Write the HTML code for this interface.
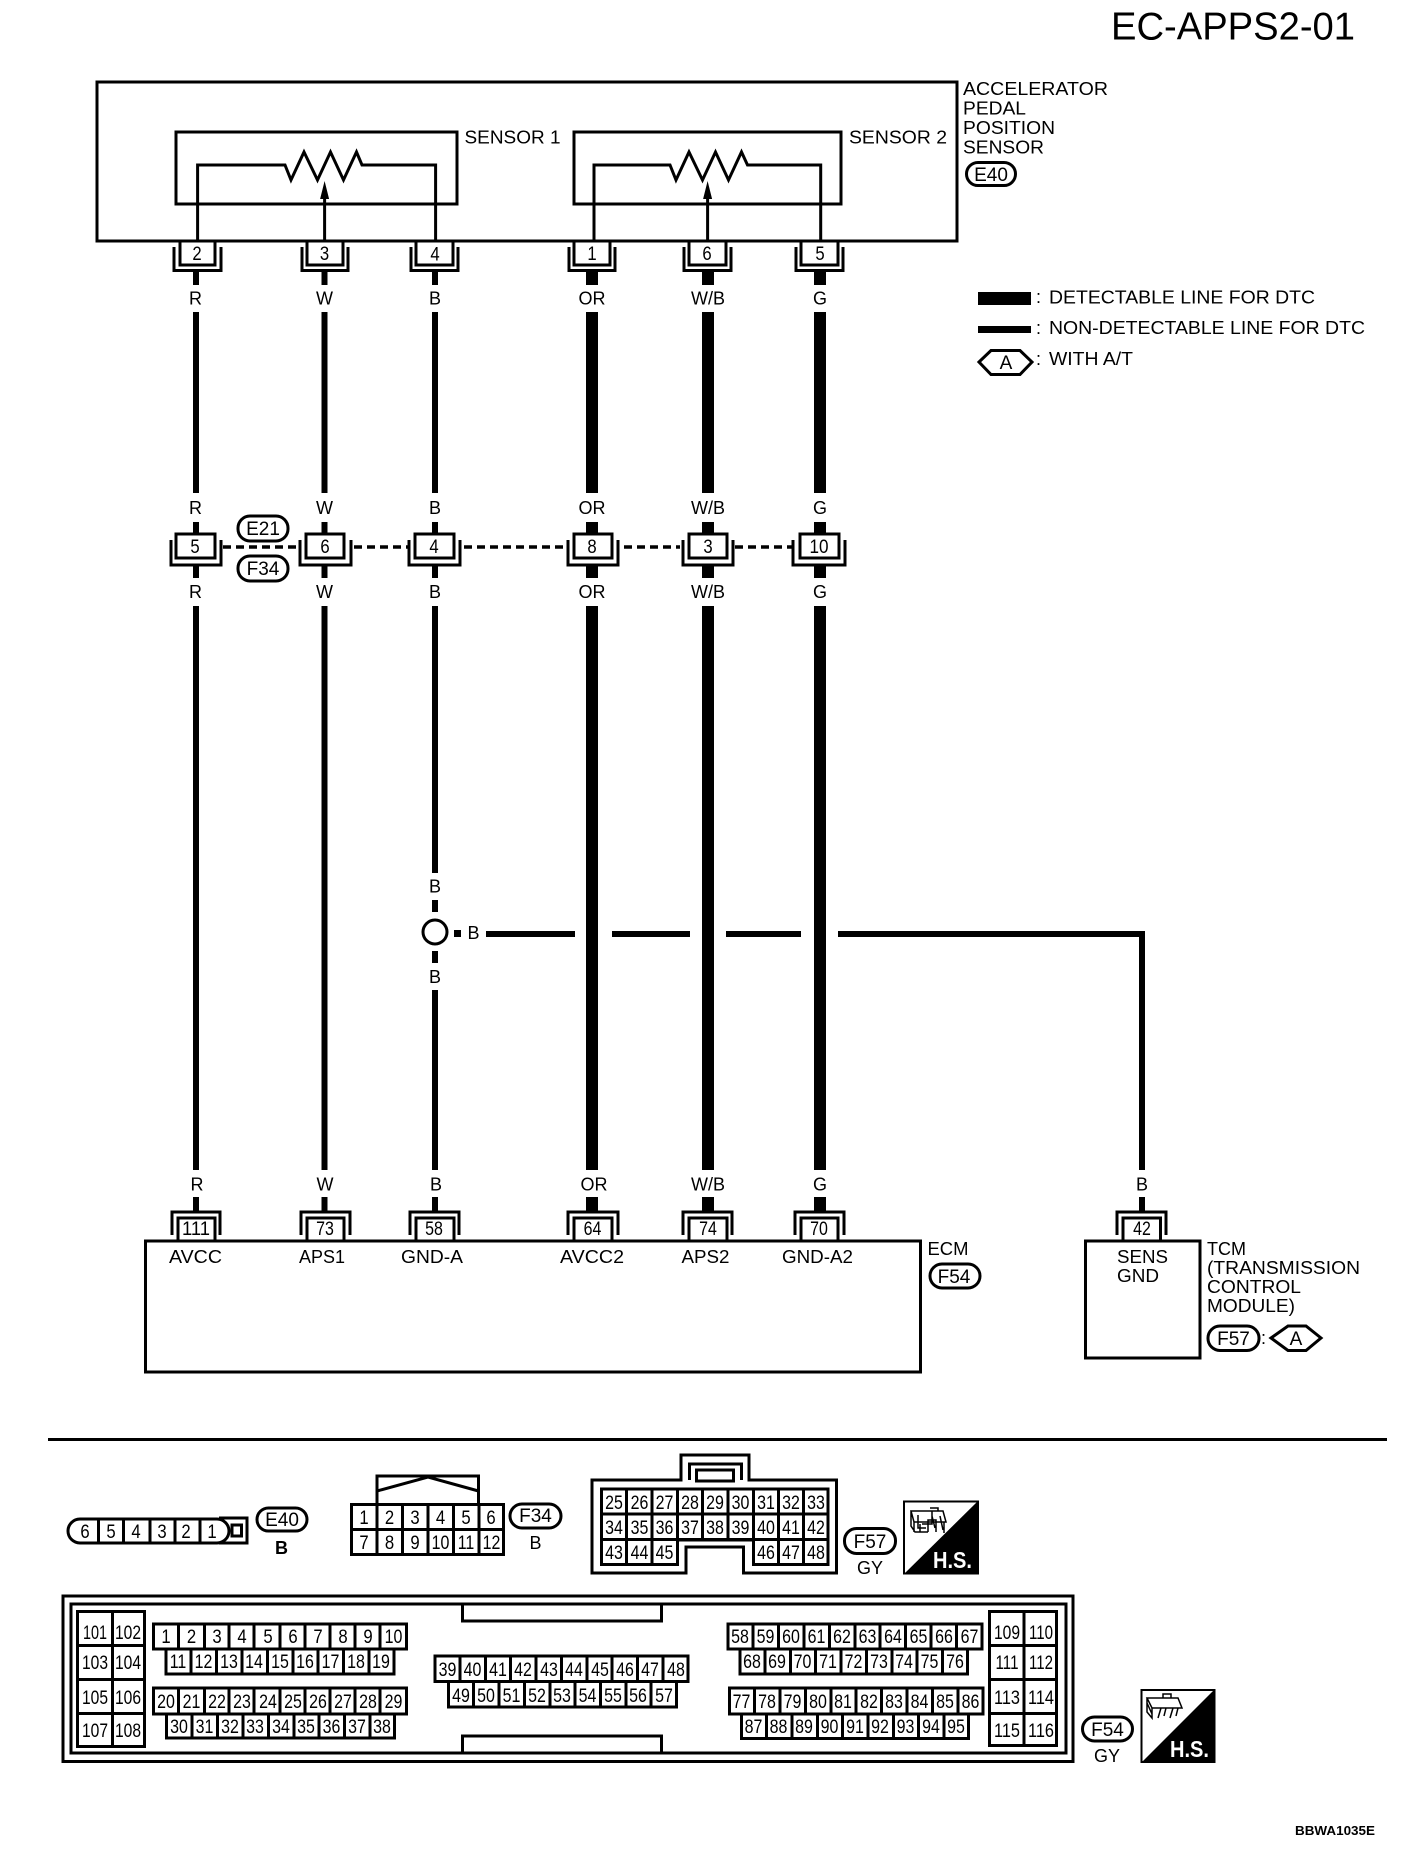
<!DOCTYPE html>
<html><head><meta charset="utf-8"><title>EC-APPS2-01</title>
<style>
html,body{margin:0;padding:0;background:#fff}
svg{display:block}
text{font-family:"Liberation Sans",sans-serif;fill:#000}
.l{font-size:18px;text-anchor:middle}
.n{font-size:19px;text-anchor:middle;transform-box:fill-box;transform-origin:center;transform:scaleX(.88)}
.n[textLength]{transform:none}
.c{font-size:19px;text-anchor:middle;transform-box:fill-box;transform-origin:center;transform:scaleX(.84)}
.o{font-size:19px;text-anchor:middle}
.t{font-size:18px}
.f{fill:none;stroke:#000;stroke-width:3}
.w{fill:#fff;stroke:#000;stroke-width:3}
</style></head><body>
<svg xmlns="http://www.w3.org/2000/svg" width="1408" height="1862" viewBox="0 0 1408 1862">
<rect width="1408" height="1862" fill="#fff"/>
<text x="1111" y="39.500" font-size="39" textLength="244" lengthAdjust="spacingAndGlyphs">EC-APPS2-01</text>

<!-- sensor box -->
<rect class="f" x="97" y="82" width="860" height="159"/>
<rect class="f" x="176" y="132" width="281" height="72"/>
<rect class="f" x="574" y="132" width="267" height="72"/>
<path class="f" d="M197.600 241V165H285L291 180 304 152 317.500 180 330.500 152 343.500 180 356.500 152 362 165H435.600V241"/>
<path class="f" d="M324.600 241V195"/>
<path d="M324.600 181l-4.500 18h9z"/>
<path class="f" d="M594 241V165H670L676 180 689 152 702.500 180 715.500 152 728.500 180 741.500 152 747.500 165H820.700V241"/>
<path class="f" d="M707.600 241V195"/>
<path d="M707.600 181l-4.500 18h9z"/>
<text class="t" x="464.500" y="143.500" textLength="96" lengthAdjust="spacingAndGlyphs">SENSOR 1</text>
<text class="t" x="849" y="143.500" textLength="98" lengthAdjust="spacingAndGlyphs">SENSOR 2</text>
<text class="t" x="963" y="95" textLength="145" lengthAdjust="spacingAndGlyphs">ACCELERATOR</text>
<text class="t" x="963" y="114.500" textLength="63" lengthAdjust="spacingAndGlyphs">PEDAL</text>
<text class="t" x="963" y="134" textLength="92" lengthAdjust="spacingAndGlyphs">POSITION</text>
<text class="t" x="963" y="153.500" textLength="81" lengthAdjust="spacingAndGlyphs">SENSOR</text>
<rect class="f" x="966.500" y="162.500" width="49" height="23" rx="11.500"/>
<text class="o" x="991" y="181">E40</text>

<!-- top connectors -->
<path class="f" d="M180 241V265H215V241M174 247V270.500H221V247"/>
<path class="f" d="M307 241V265H343V241M302 247V270.500H348V247"/>
<path class="f" d="M416 241V265H453V241M411 247V270.500H458V247"/>
<path class="f" d="M574 241V265H610V241M569 247V270.500H615V247"/>
<path class="f" d="M689 241V265H726V241M684 247V270.500H731V247"/>
<path class="f" d="M801 241V265H838V241M796 247V270.500H843V247"/>
<g>
<text class="n" x="197" y="260">2</text><text class="n" x="324.500" y="260">3</text><text class="n" x="435" y="260.500">4</text>
<text class="n" x="592" y="260">1</text><text class="n" x="707" y="260">6</text><text class="n" x="820" y="260">5</text>
</g>

<!-- wires -->
<g fill="#000">
<rect x="193" y="272" width="6" height="13"/><rect x="193" y="312" width="6" height="181"/><rect x="193" y="522" width="6" height="12"/><rect x="193" y="566" width="6" height="12"/><rect x="193" y="606" width="6" height="564"/><rect x="193" y="1197" width="6" height="15"/>
<rect x="321.500" y="272" width="6" height="13"/><rect x="321.500" y="312" width="6" height="181"/><rect x="321.500" y="522" width="6" height="12"/><rect x="321.500" y="566" width="6" height="12"/><rect x="321.500" y="606" width="6" height="564"/><rect x="321.500" y="1197" width="6" height="15"/>
<rect x="432" y="272" width="6" height="13"/><rect x="432" y="312" width="6" height="181"/><rect x="432" y="522" width="6" height="12"/><rect x="432" y="566" width="6" height="12"/><rect x="432" y="606" width="6" height="267"/><rect x="432" y="900" width="6" height="12"/><rect x="432" y="951" width="6" height="12"/><rect x="432" y="990" width="6" height="180"/><rect x="432" y="1197" width="6" height="15"/>
<rect x="586" y="272" width="12" height="13"/><rect x="586" y="312" width="12" height="181"/><rect x="586" y="522" width="12" height="12"/><rect x="586" y="566" width="12" height="12"/><rect x="586" y="606" width="12" height="564"/><rect x="586" y="1197" width="12" height="15"/>
<rect x="702" y="272" width="12" height="13"/><rect x="702" y="312" width="12" height="181"/><rect x="702" y="522" width="12" height="12"/><rect x="702" y="566" width="12" height="12"/><rect x="702" y="606" width="12" height="564"/><rect x="702" y="1197" width="12" height="15"/>
<rect x="814" y="272" width="12" height="13"/><rect x="814" y="312" width="12" height="181"/><rect x="814" y="522" width="12" height="12"/><rect x="814" y="566" width="12" height="12"/><rect x="814" y="606" width="12" height="564"/><rect x="814" y="1197" width="12" height="15"/>
<rect x="1139" y="931" width="6" height="239"/><rect x="1139" y="1197" width="6" height="15"/>
<rect x="486" y="931" width="89" height="6"/><rect x="612" y="931" width="78" height="6"/><rect x="726" y="931" width="75" height="6"/><rect x="838" y="931" width="307" height="6"/>
<rect x="454" y="930" width="7" height="7"/>
</g>

<!-- wire labels -->
<g>
<text class="l" x="195.500" y="304.500">R</text><text class="l" x="324.500" y="304.500">W</text><text class="l" x="435" y="304.500">B</text><text class="l" x="592" y="304.500">OR</text><text class="l" x="708" y="304.500">W/B</text><text class="l" x="820" y="304.500">G</text>
<text class="l" x="195.500" y="514">R</text><text class="l" x="324.500" y="514">W</text><text class="l" x="435" y="514">B</text><text class="l" x="592" y="514">OR</text><text class="l" x="708" y="514">W/B</text><text class="l" x="820" y="514">G</text>
<text class="l" x="195.500" y="598">R</text><text class="l" x="324.500" y="598">W</text><text class="l" x="435" y="598">B</text><text class="l" x="592" y="598">OR</text><text class="l" x="708" y="598">W/B</text><text class="l" x="820" y="598">G</text>
<text class="l" x="197" y="1190.500">R</text><text class="l" x="325" y="1190.500">W</text><text class="l" x="436" y="1190.500">B</text><text class="l" x="594" y="1190.500">OR</text><text class="l" x="708" y="1190.500">W/B</text><text class="l" x="820" y="1190.500">G</text>
<text class="l" x="1142" y="1190.500">B</text>
<text class="l" x="435" y="892.500">B</text><text class="l" x="435" y="983">B</text><text class="l" x="473.500" y="939">B</text>
</g>
<circle class="f" cx="435" cy="932" r="12"/>

<!-- middle connectors -->
<path class="f" d="M176 534H215V558H176ZM171 540V565H221V540"/>
<path class="f" d="M306 534H344V558H306ZM300 540V565H351V540"/>
<path class="f" d="M415 534H454V558H415ZM409 540V565H460V540"/>
<path class="f" d="M574 534H612V558H574ZM568 540V565H618V540"/>
<path class="f" d="M689 534H727V558H689ZM683 540V565H733V540"/>
<path class="f" d="M800 534H839V558H800ZM793 540V565H845V540"/>
<g>
<text class="n" x="195" y="553">5</text><text class="n" x="325" y="553">6</text><text class="n" x="434" y="553">4</text><text class="n" x="592" y="553">8</text><text class="n" x="708" y="553">3</text><text class="n" x="819" y="553" textLength="19" lengthAdjust="spacingAndGlyphs">10</text>
</g>
<path d="M223 547H298M354 547H408M464 547H567M624 547H680M735 547H792" fill="none" stroke="#000" stroke-width="3.500" stroke-dasharray="8 5"/>
<rect class="f" x="238" y="516" width="50" height="25" rx="12"/>
<text class="o" x="263" y="535">E21</text>
<rect class="f" x="238" y="556" width="50" height="25" rx="12"/>
<text class="o" x="263" y="575">F34</text>

<!-- legend -->
<rect x="978" y="292" width="53" height="13"/>
<rect x="978" y="326" width="53" height="7"/>
<text class="t" x="1036" y="303">:</text><text class="t" x="1049" y="303.500" textLength="266" lengthAdjust="spacingAndGlyphs">DETECTABLE LINE FOR DTC</text>
<text class="t" x="1036" y="334">:</text><text class="t" x="1049" y="334" textLength="316" lengthAdjust="spacingAndGlyphs">NON-DETECTABLE LINE FOR DTC</text>
<text class="t" x="1036" y="365">:</text><text class="t" x="1049" y="365" textLength="84" lengthAdjust="spacingAndGlyphs">WITH A/T</text>
<path class="f" d="M979 362L991 350.500H1020L1032 362 1020 374.500H991Z"/>
<text class="o" x="1006" y="369">A</text>

<!-- ECM -->
<rect class="f" x="145.500" y="1241" width="775" height="131"/>
<path class="f" d="M178 1241V1218H215V1241M172 1235V1212H220V1235"/>
<path class="f" d="M307 1241V1218H344V1241M301 1235V1212H350V1235"/>
<path class="f" d="M416 1241V1218H454V1241M410 1235V1212H459V1235"/>
<path class="f" d="M574 1241V1218H612V1241M568 1235V1212H618V1235"/>
<path class="f" d="M689 1241V1218H727V1241M683 1235V1212H732V1235"/>
<path class="f" d="M801 1241V1218H838V1241M795 1235V1212H844V1235"/>
<g>
<text class="n" x="196" y="1235" textLength="28" lengthAdjust="spacingAndGlyphs">111</text><text class="c" x="325" y="1235">73</text><text class="c" x="434" y="1235">58</text><text class="c" x="592.500" y="1235">64</text><text class="c" x="708" y="1235">74</text><text class="c" x="819" y="1235">70</text>
</g>
<text class="t" x="169" y="1263" textLength="53" lengthAdjust="spacingAndGlyphs">AVCC</text>
<text class="t" x="299" y="1263" textLength="46" lengthAdjust="spacingAndGlyphs">APS1</text>
<text class="t" x="401" y="1263" textLength="62" lengthAdjust="spacingAndGlyphs">GND-A</text>
<text class="t" x="560" y="1263" textLength="64" lengthAdjust="spacingAndGlyphs">AVCC2</text>
<text class="t" x="681.500" y="1263" textLength="48" lengthAdjust="spacingAndGlyphs">APS2</text>
<text class="t" x="782" y="1263" textLength="71" lengthAdjust="spacingAndGlyphs">GND-A2</text>
<text class="t" x="927.500" y="1255" textLength="41" lengthAdjust="spacingAndGlyphs">ECM</text>
<rect class="f" x="930" y="1264" width="50" height="24" rx="12"/>
<text class="o" x="954" y="1283">F54</text>

<!-- TCM -->
<rect class="f" x="1085.500" y="1241" width="114.500" height="117"/>
<path class="f" d="M1123 1241V1218H1160.500V1241M1117 1235V1212H1166V1235"/>
<text class="c" x="1142" y="1235">42</text>
<text class="t" x="1117" y="1263" textLength="51" lengthAdjust="spacingAndGlyphs">SENS</text>
<text class="t" x="1117" y="1282" textLength="42" lengthAdjust="spacingAndGlyphs">GND</text>
<text class="t" x="1207" y="1255" textLength="39" lengthAdjust="spacingAndGlyphs">TCM</text>
<text class="t" x="1207" y="1274" textLength="153" lengthAdjust="spacingAndGlyphs">(TRANSMISSION</text>
<text class="t" x="1207" y="1293" textLength="94" lengthAdjust="spacingAndGlyphs">CONTROL</text>
<text class="t" x="1207" y="1312" textLength="88" lengthAdjust="spacingAndGlyphs">MODULE)</text>
<rect class="f" x="1208" y="1326" width="51" height="24.500" rx="12"/>
<text class="o" x="1233.500" y="1345">F57</text>
<text class="t" x="1261" y="1344">:</text>
<path class="f" d="M1271 1338L1288 1326H1306L1321 1338 1306 1350.500H1288Z"/>
<text class="o" x="1296" y="1345">A</text>

<rect x="48" y="1438" width="1339" height="3"/>

<!-- E40 connector -->
<path class="f" d="M219 1518H247V1543H219"/>
<rect class="f" x="232" y="1525" width="9.500" height="11"/>
<rect class="w" x="68" y="1519" width="161" height="24" rx="12"/>
<path class="f" d="M98.500 1519V1543M123.500 1519V1543M150 1519V1543M175 1519V1543M200 1519V1543"/>
<g>
<text class="n" x="85" y="1538">6</text><text class="n" x="111" y="1538">5</text><text class="n" x="136" y="1538">4</text><text class="n" x="162" y="1538">3</text><text class="n" x="186" y="1538">2</text><text class="n" x="212" y="1538">1</text>
</g>
<rect class="f" x="257" y="1508" width="50" height="23" rx="11.500"/>
<text class="o" x="282" y="1526">E40</text>
<text class="l" x="281.500" y="1554" font-weight="bold">B</text>

<!-- F34 connector -->
<path class="f" d="M377 1504V1476H478.500V1504"/>
<path class="f" d="M377 1491L428 1477 478.500 1491"/>
<rect class="w" x="351.500" y="1504.500" width="152" height="50"/>
<path class="f" d="M351.500 1529.500H503.500M377 1504.500V1554.500M402.500 1504.500V1554.500M428 1504.500V1554.500M453.500 1504.500V1554.500M479 1504.500V1554.500"/>
<g>
<text class="n" x="364" y="1524">1</text><text class="n" x="389.500" y="1524">2</text><text class="n" x="415" y="1524">3</text><text class="n" x="440.500" y="1524">4</text><text class="n" x="466" y="1524">5</text><text class="n" x="491" y="1524">6</text>
<text class="n" x="364" y="1549">7</text><text class="n" x="389.500" y="1549">8</text><text class="n" x="415" y="1549">9</text>
<text class="c" x="440.500" y="1549">10</text><text class="c" x="466" y="1549">11</text><text class="c" x="491.500" y="1549">12</text>
</g>
<rect class="f" x="510" y="1504" width="51" height="24" rx="12"/>
<text class="o" x="535.500" y="1522">F34</text>
<text class="l" x="535.500" y="1549">B</text>

<!-- F57 connector -->
<path class="f" d="M592 1480H681V1455H749V1480H836.500V1573H743.500V1547H686V1573H592Z"/>
<path class="f" d="M689.500 1480V1464H741.500V1480"/>
<rect class="f" x="696.500" y="1470" width="37" height="11"/>
<path class="w" d="M601.500 1489H828V1564.500H753.500V1540H677.500V1564.500H601.500Z"/>
<path class="f" d="M601.500 1514H828M601.500 1539.500H828M626.500 1489V1564.500M652 1489V1564.500M677.500 1489V1540M702.500 1489V1540M728 1489V1540M753.500 1489V1564.500M778.500 1489V1564.500M803.500 1489V1564.500"/>
<g>
<text class="c" x="614" y="1509">25</text><text class="c" x="639.500" y="1509">26</text><text class="c" x="664.500" y="1509">27</text><text class="c" x="690" y="1509">28</text><text class="c" x="715" y="1509">29</text><text class="c" x="740.500" y="1509">30</text><text class="c" x="766" y="1509">31</text><text class="c" x="791" y="1509">32</text><text class="c" x="816" y="1509">33</text>
<text class="c" x="614" y="1534">34</text><text class="c" x="639.500" y="1534">35</text><text class="c" x="664.500" y="1534">36</text><text class="c" x="690" y="1534">37</text><text class="c" x="715" y="1534">38</text><text class="c" x="740.500" y="1534">39</text><text class="c" x="766" y="1534">40</text><text class="c" x="791" y="1534">41</text><text class="c" x="816" y="1534">42</text>
<text class="c" x="614" y="1559">43</text><text class="c" x="639.500" y="1559">44</text><text class="c" x="664.500" y="1559">45</text><text class="c" x="766" y="1559">46</text><text class="c" x="791" y="1559">47</text><text class="c" x="816" y="1559">48</text>
</g>
<rect class="f" x="844.500" y="1528.500" width="51" height="25" rx="12"/>
<text class="o" x="870" y="1548">F57</text>
<text class="l" x="870" y="1574">GY</text>
<!-- HS 1 -->
<rect x="904" y="1501.500" width="74" height="72" fill="#fff" stroke="#000" stroke-width="2"/>
<path d="M978 1501L904 1574H978Z"/>
<text x="933" y="1568" font-size="23" font-weight="bold" style="fill:#fff" textLength="39" lengthAdjust="spacingAndGlyphs">H.S.</text>
<path d="M911 1511H943L946 1522H914ZM911 1511V1526L915 1532H928M914 1522V1532M918 1515V1528H926M922 1524H932V1511M920 1532V1524M928 1532V1520H936V1532M932 1516L935 1528M940 1516L943 1530M944 1522V1533M930 1508H938V1511" fill="none" stroke="#000" stroke-width="1.500"/>

<!-- F54 connector -->
<rect class="f" x="63" y="1596" width="1010" height="165.500"/>
<rect class="f" x="71" y="1604" width="995" height="149"/>
<path class="f" d="M462.500 1604V1621H661.500V1604"/>
<path class="f" d="M462.500 1753V1736H661.500V1753"/>
<!-- left block -->
<rect class="w" x="77.500" y="1611.500" width="67" height="135"/>
<path class="f" d="M112.500 1611.500V1746.500M77.500 1645.500H144.500M77.500 1679.500H144.500M77.500 1713.500H144.500"/>
<g>
<text class="n" x="95" y="1639" textLength="24" lengthAdjust="spacingAndGlyphs">101</text><text class="n" x="128" y="1639" textLength="26" lengthAdjust="spacingAndGlyphs">102</text>
<text class="n" x="95" y="1669" textLength="26" lengthAdjust="spacingAndGlyphs">103</text><text class="n" x="128" y="1669" textLength="26" lengthAdjust="spacingAndGlyphs">104</text>
<text class="n" x="95" y="1704" textLength="26" lengthAdjust="spacingAndGlyphs">105</text><text class="n" x="128" y="1704" textLength="26" lengthAdjust="spacingAndGlyphs">106</text>
<text class="n" x="95" y="1737" textLength="26" lengthAdjust="spacingAndGlyphs">107</text><text class="n" x="128" y="1737" textLength="26" lengthAdjust="spacingAndGlyphs">108</text>
</g>
<!-- row 1-10 -->
<rect class="w" x="153.500" y="1624" width="253" height="25"/>
<path class="f" d="M178.500 1624V1649M204.500 1624V1649M229 1624V1649M254 1624V1649M280 1624V1649M305 1624V1649M330 1624V1649M355 1624V1649M380 1624V1649"/>
<rect class="w" x="166" y="1649" width="228" height="25"/>
<path class="f" d="M191 1649V1674M216.500 1649V1674M242 1649V1674M267.500 1649V1674M293 1649V1674M318 1649V1674M343.500 1649V1674M369 1649V1674"/>
<g>
<text class="n" x="166" y="1643">1</text><text class="n" x="191.500" y="1643">2</text><text class="n" x="217" y="1643">3</text><text class="n" x="242" y="1643">4</text><text class="n" x="268" y="1643">5</text><text class="n" x="293" y="1643">6</text><text class="n" x="318" y="1643">7</text><text class="n" x="343" y="1643">8</text><text class="n" x="368" y="1643">9</text><text class="c" x="393.500" y="1643">10</text>
<text class="c" x="178" y="1668">11</text><text class="c" x="203.500" y="1668">12</text><text class="c" x="229" y="1668">13</text><text class="c" x="254" y="1668">14</text><text class="c" x="280" y="1668">15</text><text class="c" x="305" y="1668">16</text><text class="c" x="330.500" y="1668">17</text><text class="c" x="356" y="1668">18</text><text class="c" x="381" y="1668">19</text>
</g>
<!-- row 20-29 -->
<rect class="w" x="153.500" y="1688" width="253" height="26"/>
<path class="f" d="M178.500 1688V1714M204.500 1688V1714M229 1688V1714M254 1688V1714M280 1688V1714M305 1688V1714M330 1688V1714M355 1688V1714M380 1688V1714"/>
<rect class="w" x="166.500" y="1714" width="228" height="24"/>
<path class="f" d="M192 1714V1738M217.500 1714V1738M243 1714V1738M268.500 1714V1738M294 1714V1738M319 1714V1738M344.500 1714V1738M370 1714V1738"/>
<g>
<text class="c" x="166" y="1708">20</text><text class="c" x="191.500" y="1708">21</text><text class="c" x="217" y="1708">22</text><text class="c" x="242" y="1708">23</text><text class="c" x="268" y="1708">24</text><text class="c" x="293" y="1708">25</text><text class="c" x="318" y="1708">26</text><text class="c" x="343" y="1708">27</text><text class="c" x="368" y="1708">28</text><text class="c" x="393.500" y="1708">29</text>
<text class="c" x="179" y="1733">30</text><text class="c" x="204.500" y="1733">31</text><text class="c" x="230" y="1733">32</text><text class="c" x="255" y="1733">33</text><text class="c" x="281" y="1733">34</text><text class="c" x="306" y="1733">35</text><text class="c" x="331.500" y="1733">36</text><text class="c" x="357" y="1733">37</text><text class="c" x="382" y="1733">38</text>
</g>
<!-- centre -->
<rect class="w" x="435" y="1656" width="253" height="25.500"/>
<path class="f" d="M460 1656V1681.500M485.500 1656V1681.500M510.500 1656V1681.500M536 1656V1681.500M561.500 1656V1681.500M587 1656V1681.500M612 1656V1681.500M637.500 1656V1681.500M663 1656V1681.500"/>
<rect class="w" x="448.500" y="1681.500" width="228" height="25.500"/>
<path class="f" d="M473.500 1681.500V1707M499 1681.500V1707M524.500 1681.500V1707M550 1681.500V1707M575 1681.500V1707M600.500 1681.500V1707M626 1681.500V1707M651 1681.500V1707"/>
<g>
<text class="c" x="447.500" y="1676">39</text><text class="c" x="472.500" y="1676">40</text><text class="c" x="498" y="1676">41</text><text class="c" x="523" y="1676">42</text><text class="c" x="549" y="1676">43</text><text class="c" x="574" y="1676">44</text><text class="c" x="600" y="1676">45</text><text class="c" x="625" y="1676">46</text><text class="c" x="650" y="1676">47</text><text class="c" x="676" y="1676">48</text>
<text class="c" x="461" y="1702">49</text><text class="c" x="486" y="1702">50</text><text class="c" x="511.500" y="1702">51</text><text class="c" x="537" y="1702">52</text><text class="c" x="562" y="1702">53</text><text class="c" x="587.500" y="1702">54</text><text class="c" x="613" y="1702">55</text><text class="c" x="638" y="1702">56</text><text class="c" x="664" y="1702">57</text>
</g>
<!-- right rows -->
<rect class="w" x="728" y="1624" width="254" height="25"/>
<path class="f" d="M753 1624V1649M778.500 1624V1649M804 1624V1649M829.500 1624V1649M855 1624V1649M880 1624V1649M905.500 1624V1649M931 1624V1649M956.500 1624V1649"/>
<rect class="w" x="740" y="1649" width="227.500" height="25"/>
<path class="f" d="M765 1649V1674M790.500 1649V1674M815.500 1649V1674M841 1649V1674M866.500 1649V1674M892 1649V1674M917 1649V1674M942.500 1649V1674"/>
<g>
<text class="c" x="740" y="1643">58</text><text class="c" x="765.500" y="1643">59</text><text class="c" x="791" y="1643">60</text><text class="c" x="816.500" y="1643">61</text><text class="c" x="842" y="1643">62</text><text class="c" x="867.500" y="1643">63</text><text class="c" x="893" y="1643">64</text><text class="c" x="918.500" y="1643">65</text><text class="c" x="944" y="1643">66</text><text class="c" x="969.500" y="1643">67</text>
<text class="c" x="752" y="1668">68</text><text class="c" x="777" y="1668">69</text><text class="c" x="802.500" y="1668">70</text><text class="c" x="828" y="1668">71</text><text class="c" x="853.500" y="1668">72</text><text class="c" x="879" y="1668">73</text><text class="c" x="904" y="1668">74</text><text class="c" x="929.500" y="1668">75</text><text class="c" x="955" y="1668">76</text>
</g>
<rect class="w" x="729.500" y="1688" width="253.500" height="26"/>
<path class="f" d="M754.500 1688V1714M780 1688V1714M805.500 1688V1714M831 1688V1714M856 1688V1714M881.500 1688V1714M907 1688V1714M932.500 1688V1714M958 1688V1714"/>
<rect class="w" x="741.500" y="1714" width="227" height="24.500"/>
<path class="f" d="M766.500 1714V1738.500M792 1714V1738.500M817.500 1714V1738.500M842.500 1714V1738.500M868 1714V1738.500M893.500 1714V1738.500M918.500 1714V1738.500M944 1714V1738.500"/>
<g>
<text class="c" x="741.500" y="1708">77</text><text class="c" x="767" y="1708">78</text><text class="c" x="792.500" y="1708">79</text><text class="c" x="818" y="1708">80</text><text class="c" x="843" y="1708">81</text><text class="c" x="869" y="1708">82</text><text class="c" x="894" y="1708">83</text><text class="c" x="919.500" y="1708">84</text><text class="c" x="945" y="1708">85</text><text class="c" x="970.500" y="1708">86</text>
<text class="c" x="753.500" y="1733">87</text><text class="c" x="778.500" y="1733">88</text><text class="c" x="804" y="1733">89</text><text class="c" x="829.500" y="1733">90</text><text class="c" x="855" y="1733">91</text><text class="c" x="880" y="1733">92</text><text class="c" x="905.500" y="1733">93</text><text class="c" x="931" y="1733">94</text><text class="c" x="956" y="1733">95</text>
</g>
<!-- right block -->
<rect class="w" x="989.500" y="1611.500" width="67" height="134"/>
<path class="f" d="M1024 1611.500V1745.500M989.500 1645.500H1056.500M989.500 1679.500H1056.500M989.500 1713.500H1056.500"/>
<g>
<text class="n" x="1007" y="1639" textLength="26" lengthAdjust="spacingAndGlyphs">109</text><text class="n" x="1041" y="1639" textLength="24" lengthAdjust="spacingAndGlyphs">110</text>
<text class="n" x="1007" y="1669" textLength="23" lengthAdjust="spacingAndGlyphs">111</text><text class="n" x="1041" y="1669" textLength="24" lengthAdjust="spacingAndGlyphs">112</text>
<text class="n" x="1007" y="1704" textLength="26" lengthAdjust="spacingAndGlyphs">113</text><text class="n" x="1041" y="1704" textLength="26" lengthAdjust="spacingAndGlyphs">114</text>
<text class="n" x="1007" y="1737" textLength="26" lengthAdjust="spacingAndGlyphs">115</text><text class="n" x="1041" y="1737" textLength="26" lengthAdjust="spacingAndGlyphs">116</text>
</g>
<rect class="f" x="1082.500" y="1717" width="50" height="24" rx="12"/>
<text class="o" x="1107.500" y="1736">F54</text>
<text class="l" x="1107" y="1762">GY</text>
<!-- HS 2 -->
<rect x="1141.500" y="1690" width="73" height="72" fill="#fff" stroke="#000" stroke-width="2"/>
<path d="M1215 1689L1141 1763H1215Z"/>
<text x="1170" y="1757" font-size="23" font-weight="bold" style="fill:#fff" textLength="39" lengthAdjust="spacingAndGlyphs">H.S.</text>
<path d="M1147 1698H1178L1182 1708H1152ZM1147 1698V1712L1152 1718V1708M1147 1703L1152 1714M1158 1718L1161 1708M1164 1716L1166 1708M1170 1718L1173 1708M1176 1716L1178 1708M1163 1698V1694H1171V1698" fill="none" stroke="#000" stroke-width="1.500"/>

<text x="1295" y="1835" font-size="12.500" font-weight="bold" textLength="80" lengthAdjust="spacingAndGlyphs">BBWA1035E</text>
</svg>
</body></html>
